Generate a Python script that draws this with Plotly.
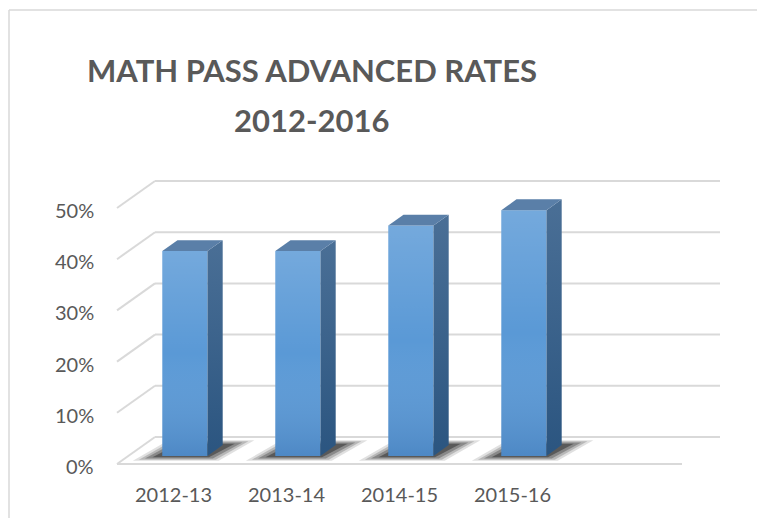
import plotly.graph_objects as go

# ---------------- data ----------------
categories = ["2012-13", "2013-14", "2014-15", "2015-16"]
rates = [0.40, 0.40, 0.45, 0.48]
tick_values = [0.0, 0.1, 0.2, 0.3, 0.4, 0.5]
tick_labels = ["0%", "10%", "20%", "30%", "40%", "50%"]
title_lines = ["MATH PASS ADVANCED RATES", "2012-2016"]

# ---------------- pseudo-3D projection (layout constants) ----------------
W, H = 765, 518
OFF = 8                          # page body margin of the rendered html
N_SLOTS = 5                      # floor has room for five category slots
X0_PX, X_PX_UNIT = 117 - OFF, 113      # pixel of x=-0.5 on the front edge, px per category
Y0_PX, Y_PX_UNIT = 464 - OFF, 512      # pixel of 0% on the front edge, px per 100%
DEPTH_X = 38 / X_PX_UNIT         # full floor depth shift (front -> back wall)
DEPTH_Y = 27 / Y_PX_UNIT
BAR_W = 0.4
BAR_D0, BAR_D1 = 0.3, 0.7        # bar front / back depth fractions

GRID = "#d9d9d9"
TEXT = "#595959"
FONT = "Lato"


def pt(x, v, d):
    """project (category x, value v, depth d) onto the 2-D axes"""
    return x + d * DEPTH_X, v + d * DEPTH_Y


x_range = [-0.5 - X0_PX / X_PX_UNIT, -0.5 + (W - X0_PX) / X_PX_UNIT]
y_range = [-(H - Y0_PX) / Y_PX_UNIT, Y0_PX / Y_PX_UNIT]

fig = go.Figure()
shapes = []

# back wall gridlines + side-wall diagonals
left, right = -0.5, N_SLOTS - 0.5
for v in tick_values:
    (ax, ay), (bx, by) = pt(left, v, 1), pt(right, v, 1)
    shapes.append(dict(type="line", xref="x", yref="y", x0=ax, y0=ay, x1=bx, y1=by,
                       line=dict(color=GRID, width=2), layer="below"))
    (ax, ay), (bx, by) = pt(left, v, 0), pt(left, v, 1)
    shapes.append(dict(type="line", xref="x", yref="y", x0=ax, y0=ay, x1=bx, y1=by,
                       line=dict(color=GRID, width=2), layer="below"))
# floor front edge
(ax, ay), (bx, by) = pt(left, 0, 0), pt(right, 0, 0)
shapes.append(dict(type="line", xref="x", yref="y", x0=ax, y0=ay, x1=bx, y1=by,
                   line=dict(color=GRID, width=2), layer="below"))


def poly_path(points):
    return "M " + " L ".join(f"{x},{y}" for x, y in points) + " Z"


# soft floor shadows under each bar
for i, v in enumerate(rates):
    for grow, op in [(0.10, 0.12), (0.06, 0.18), (0.02, 0.25), (-0.03, 0.35)]:
        hx = BAR_W / 2 + 0.1 + grow
        d0, d1 = BAR_D0 - 0.08 - grow, BAR_D1 + 0.08 + grow
        pts = [pt(i - hx, 0, d0), pt(i + hx - 0.04, 0, d0),
               pt(i + hx + 0.02, 0, d1), pt(i - hx + 0.06, 0, d1)]
        shapes.append(dict(type="path", xref="x", yref="y", path=poly_path(pts),
                           fillcolor=f"rgba(0,0,0,{op})", line=dict(width=0),
                           layer="below"))

# bar front faces
fig.add_trace(go.Bar(
    x=[i + BAR_D0 * DEPTH_X for i in range(len(rates))],
    y=rates,
    base=BAR_D0 * DEPTH_Y,
    width=BAR_W,
    marker=dict(color="#5a99d6", line=dict(width=0)),
    hoverinfo="skip",
))

# bar shading: lighting on front faces, side and top faces
for i, v in enumerate(rates):
    front = [pt(i - BAR_W / 2, 0, BAR_D0), pt(i + BAR_W / 2, 0, BAR_D0),
             pt(i + BAR_W / 2, v, BAR_D0), pt(i - BAR_W / 2, v, BAR_D0),
             pt(i - BAR_W / 2, 0, BAR_D0)]
    fig.add_trace(go.Scatter(
        x=[p[0] for p in front], y=[p[1] for p in front], mode="lines",
        fill="toself", line=dict(width=0),
        fillgradient=dict(type="vertical",
                          colorscale=[[0, "rgba(20,60,120,0.18)"],
                                      [0.5, "rgba(255,255,255,0)"],
                                      [1, "rgba(255,255,255,0.16)"]]),
        hoverinfo="skip"))
    side = [pt(i + BAR_W / 2, 0, BAR_D0), pt(i + BAR_W / 2, 0, BAR_D1),
            pt(i + BAR_W / 2, v, BAR_D1), pt(i + BAR_W / 2, v, BAR_D0),
            pt(i + BAR_W / 2, 0, BAR_D0)]
    fig.add_trace(go.Scatter(
        x=[p[0] for p in side], y=[p[1] for p in side], mode="lines",
        fill="toself", line=dict(width=0),
        fillgradient=dict(type="vertical",
                          colorscale=[[0, "#2b5580"], [1, "#4a6f96"]]),
        hoverinfo="skip"))
    top = [pt(i - BAR_W / 2, v, BAR_D0), pt(i + BAR_W / 2, v, BAR_D0),
           pt(i + BAR_W / 2, v, BAR_D1), pt(i - BAR_W / 2, v, BAR_D1),
           pt(i - BAR_W / 2, v, BAR_D0)]
    fig.add_trace(go.Scatter(
        x=[p[0] for p in top], y=[p[1] for p in top], mode="lines",
        fill="toself", fillcolor="#5a7fa8", line=dict(width=0),
        hoverinfo="skip"))

annotations = []
# value-axis labels on the front edge
for v, lab in zip(tick_values, tick_labels):
    x, y = pt(left, v, 0)
    annotations.append(dict(x=x, y=y, xref="x", yref="y", text=lab, showarrow=False,
                            xanchor="right", yanchor="middle", xshift=-21, yshift=-2,
                            font=dict(family=FONT, size=20, color=TEXT)))
# category labels
for i, c in enumerate(categories):
    x, y = pt(i, 0, 0)
    annotations.append(dict(x=x, y=y, xref="x", yref="y", text=c, showarrow=False,
                            xanchor="center", yanchor="middle", yshift=-30,
                            font=dict(family=FONT, size=20, color=TEXT)))
# title
for k, line in enumerate(title_lines):
    annotations.append(dict(x=(311.5 - OFF) / W, y=1 - (70 - OFF + 50 * k) / H,
                            xref="paper", yref="paper",
                            text=f"<b>{line}</b>", showarrow=False,
                            xanchor="center", yanchor="middle",
                            font=dict(family=FONT, size=31, color=TEXT)))

# chart border (top and left edge visible)
bx0, by0 = 1 / W, 1 - (10 - OFF) / H
shapes.append(dict(type="line", xref="paper", yref="paper", x0=bx0, y0=0,
                   x1=bx0, y1=by0, line=dict(color=GRID, width=1.5)))
shapes.append(dict(type="line", xref="paper", yref="paper", x0=bx0, y0=by0,
                   x1=1, y1=by0, line=dict(color=GRID, width=1.5)))

fig.update_layout(
    width=W, height=H,
    margin=dict(l=0, r=0, t=0, b=0),
    paper_bgcolor="white", plot_bgcolor="white",
    showlegend=False,
    xaxis=dict(range=x_range, visible=False, fixedrange=True),
    yaxis=dict(range=y_range, visible=False, fixedrange=True),
    shapes=shapes,
    annotations=annotations,
)

fig.write_html("out.html")
